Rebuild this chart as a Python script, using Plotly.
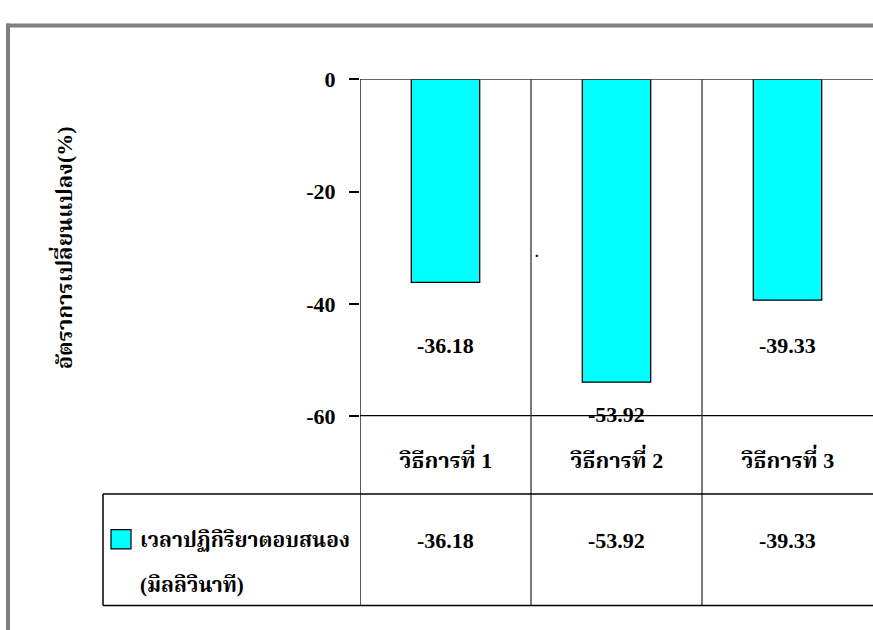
import plotly.graph_objects as go

# ---- data ----
categories = ["วิธีการที่ 1", "วิธีการที่ 2", "วิธีการที่ 3"]
values = [-36.18, -53.92, -39.33]
series_name = "เวลาปฏิกิริยาตอบสนอง"
series_unit = "(มิลลิวินาที)"
y_title = "อัตราการเปลี่ยนแปลง(%)"
y_ticks = [0, -20, -40, -60]

W, H = 873, 630
FONT = "Liberation Serif, Noto Serif Thai, Noto Sans Thai, Tlwg Typo, serif"
CYAN = "#00FFFF"


def px(x):
    return x / W


def py(y):
    return 1 - y / H


PLOT_L, PLOT_R, PLOT_T, PLOT_B = 360, 873, 70, 421
TABLE_L, ROW_T, TABLE_B = 103, 502, 618

fig = go.Figure()
fig.add_trace(go.Bar(
    x=list(range(len(categories))), y=values,
    width=0.4,
    marker=dict(color=CYAN, line=dict(color="#000000", width=1.3)),
    showlegend=False, hoverinfo="skip",
))

shapes = []
# outer frame (top + left, running off the picture)
shapes.append(dict(type="line", xref="paper", yref="paper", x0=px(6), x1=px(W + 20),
                   y0=py(14), y1=py(14), line=dict(color="#808080", width=4)))
shapes.append(dict(type="line", xref="paper", yref="paper", x0=px(8), x1=px(8),
                   y0=py(12), y1=py(H + 20), line=dict(color="#808080", width=4)))
# top (zero) line
shapes.append(dict(type="line", xref="x", yref="y", x0=-0.5, x1=2.6, y0=0, y1=0,
                   line=dict(color="#333333", width=1.5)))
# -60 line
shapes.append(dict(type="line", xref="x", yref="y", x0=-0.5, x1=2.6, y0=-60, y1=-60,
                   line=dict(color="#000000", width=2.5)))
# vertical separators through chart and table
for xb in [-0.5, 0.5, 1.5]:
    shapes.append(dict(type="line", xref="x", yref="paper", x0=xb, x1=xb,
                       y0=py(PLOT_T), y1=py(TABLE_B),
                       line=dict(color="#333333" if xb != -0.5 else "#000000", width=1.3)))
# table horizontal lines and left border
for yy in [ROW_T, TABLE_B]:
    shapes.append(dict(type="line", xref="paper", yref="paper", x0=px(TABLE_L), x1=px(W + 5),
                       y0=py(yy), y1=py(yy), line=dict(color="#000000", width=1.5)))
shapes.append(dict(type="line", xref="paper", yref="paper", x0=px(TABLE_L), x1=px(TABLE_L),
                   y0=py(ROW_T), y1=py(TABLE_B), line=dict(color="#000000", width=1.5)))
# legend swatch
shapes.append(dict(type="rect", xref="paper", yref="paper", x0=px(111), x1=px(131),
                   y0=py(539), y1=py(559), fillcolor=CYAN, line=dict(color="#000000", width=1.2)))

annotations = []
bold = dict(family=FONT, size=22, color="#000000")
legend_font = dict(family=FONT, size=21, color="#000000")
# y-axis title
annotations.append(dict(xref="paper", yref="paper", x=px(62), y=py(246), text="<b>%s</b>" % y_title,
                        textangle=-90, showarrow=False, font=dict(family=FONT, size=22, color="#000000"),
                        xanchor="center", yanchor="middle"))
# bar value labels
label_y = [-47.4, -59.6, -47.4]
for i, v in enumerate(values):
    annotations.append(dict(xref="x", yref="y", x=i, y=label_y[i], text="<b>%.2f</b>" % v,
                            showarrow=False, font=bold, xanchor="center", yanchor="middle"))
# category header row
for i, c in enumerate(categories):
    annotations.append(dict(xref="x", yref="paper", x=i, y=py(465), text="<b>%s</b>" % c,
                            showarrow=False, font=bold, xanchor="center", yanchor="middle"))
# data table values
for i, v in enumerate(values):
    annotations.append(dict(xref="x", yref="paper", x=i, y=py(550), text="<b>%.2f</b>" % v,
                            showarrow=False, font=bold, xanchor="center", yanchor="middle"))
# legend text
annotations.append(dict(xref="paper", yref="paper", x=px(138), y=py(550), text="<b>%s</b>" % series_name,
                        showarrow=False, font=legend_font, xanchor="left", yanchor="middle"))
annotations.append(dict(xref="paper", yref="paper", x=px(138), y=py(597), text="<b>%s</b>" % series_unit,
                        showarrow=False, font=legend_font, xanchor="left", yanchor="middle"))
# stray dot present in the original
annotations.append(dict(xref="paper", yref="paper", x=px(537), y=py(250), text="<b>.</b>",
                        showarrow=False, font=dict(family=FONT, size=14, color="#000000"),
                        xanchor="center", yanchor="middle"))

fig.update_layout(
    width=W, height=H,
    margin=dict(l=0, r=0, t=0, b=0),
    paper_bgcolor="#FFFFFF", plot_bgcolor="#FFFFFF",
    xaxis=dict(domain=[px(PLOT_L), 1.0], range=[-0.5, 2.5], showticklabels=False,
               showgrid=False, zeroline=False, showline=False, fixedrange=True),
    yaxis=dict(domain=[py(PLOT_B), py(PLOT_T)], range=[-60, 0], tickvals=y_ticks,
               ticktext=["<b>%d</b>" % t for t in y_ticks],
               ticks="outside", ticklen=10, tickwidth=1.5, tickcolor="#000000",
               ticklabelstandoff=9,
               showline=False, showgrid=False, zeroline=False,
               tickfont=dict(family=FONT, size=22, color="#000000"), fixedrange=True),
    shapes=shapes, annotations=annotations,
    showlegend=False,
)

fig.write_html("out.html", config={"displayModeBar": False},
               post_script="document.body.style.margin='0';document.body.style.overflow='hidden';")
